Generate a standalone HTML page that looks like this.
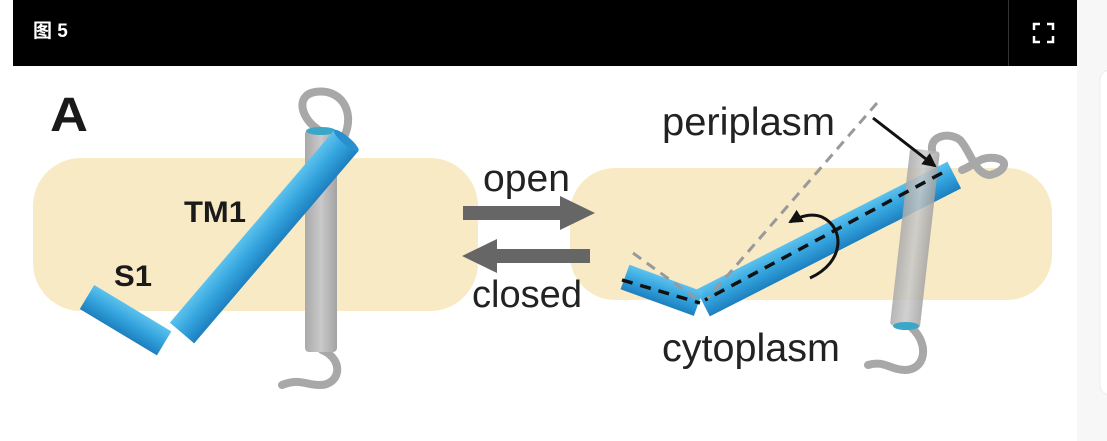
<!DOCTYPE html>
<html><head><meta charset="utf-8"><style>
html,body{margin:0;padding:0;width:1107px;height:441px;overflow:hidden;background:#f7f7f7;font-family:"Liberation Sans","Noto Sans CJK SC",sans-serif}
</style></head><body>
<svg width="1107" height="441" viewBox="0 0 1107 441" xmlns="http://www.w3.org/2000/svg" style="position:absolute;left:0;top:0">
<defs>
<linearGradient id="bl" x1="0" y1="0" x2="0" y2="1">
<stop offset="0" stop-color="#5cc2ee"/><stop offset="0.5" stop-color="#33a3dd"/><stop offset="1" stop-color="#1d7fbf"/></linearGradient>
<linearGradient id="gr" x1="0" y1="0" x2="1" y2="0">
<stop offset="0" stop-color="#a9a9a9"/><stop offset="0.5" stop-color="#c9c9c9"/><stop offset="1" stop-color="#a3a3a3"/></linearGradient>
<marker id="ah" markerWidth="14" markerHeight="14" refX="12" refY="7" orient="auto" markerUnits="userSpaceOnUse"><path d="M0,0 L14,7 L0,14 Z" fill="#111"/></marker>
</defs>
<rect x="0" y="0" width="13" height="441" fill="#fff"/>
<rect x="13" y="0" width="1064" height="441" fill="#fff"/>
<rect x="1100" y="70" width="20" height="325" rx="10" fill="#fff" stroke="#ececec"/>
<rect x="13" y="0" width="1064" height="66" fill="#000"/>
<line x1="1008.5" y1="0" x2="1008.5" y2="66" stroke="#333"/>
<text x="33" y="37" font-size="19" font-weight="bold" fill="#fff">图 5</text>
<g stroke="#fff" stroke-width="2.5" fill="none">
<path d="M1034,30 V24 H1040"/><path d="M1047,24 H1053 V30"/><path d="M1034,36 V42 H1040"/><path d="M1047,42 H1053 V36"/></g>

<rect x="33" y="158" width="445" height="153" rx="48" fill="#f9eac6"/>
<rect x="570" y="168" width="482" height="132" rx="45" fill="#f9eac6"/>

<text x="50" y="131" font-size="48" font-weight="bold" fill="#1a1a1a" textLength="38" lengthAdjust="spacingAndGlyphs">A</text>

<path d="M322,132 C300,120 295,95 315,92 C340,88 355,110 345,135" stroke="#a8a8a8" stroke-width="8" fill="none" stroke-linecap="round"/>
<path d="M322,350 C345,360 340,385 320,385 C305,385 300,378 282,385" stroke="#a8a8a8" stroke-width="8" fill="none" stroke-linecap="round"/>
<rect x="305" y="130" width="32" height="222" rx="4" fill="url(#gr)"/>
<ellipse cx="321" cy="131" rx="15" ry="4" fill="#3aa6c8"/>

<g transform="translate(182,333) rotate(-49.5)">
<rect x="0" y="-16" width="253" height="32" fill="url(#bl)"/>
<ellipse cx="253" cy="0" rx="4" ry="16" fill="#2a8fcf"/></g>
<g transform="translate(87,297) rotate(31)">
<rect x="0" y="-14" width="90" height="28" fill="url(#bl)"/></g>
<text x="184" y="222" font-size="30" font-weight="bold" fill="#1a1a1a" textLength="62" lengthAdjust="spacingAndGlyphs">TM1</text>
<text x="114" y="286" font-size="30" font-weight="bold" fill="#1a1a1a" textLength="38" lengthAdjust="spacingAndGlyphs">S1</text>

<rect x="463" y="206" width="100" height="14" fill="#666"/>
<path d="M560,196 L595,213 L560,230 Z" fill="#666"/>
<rect x="495" y="249" width="95" height="14" fill="#666"/>
<path d="M497,239 L462,256 L497,273 Z" fill="#666"/>
<text x="483" y="191" font-size="38" fill="#222" textLength="87" lengthAdjust="spacingAndGlyphs">open</text>
<text x="472" y="307" font-size="38" fill="#222" textLength="110" lengthAdjust="spacingAndGlyphs">closed</text>

<text x="662" y="135" font-size="39" fill="#222" textLength="173" lengthAdjust="spacingAndGlyphs">periplasm</text>
<text x="662" y="361" font-size="39" fill="#222" textLength="178" lengthAdjust="spacingAndGlyphs">cytoplasm</text>
<path d="M932,150 C930,135 950,132 960,140 C970,150 975,175 990,175 C1005,172 1010,160 995,158 C980,156 975,165 962,170" stroke="#a8a8a8" stroke-width="8" fill="none" stroke-linecap="round"/>
<path d="M912,328 C930,345 925,370 905,370 C890,370 885,360 868,365" stroke="#a8a8a8" stroke-width="8" fill="none" stroke-linecap="round"/>
<g transform="translate(703,303) rotate(-27)">
<rect x="0" y="-15" width="282" height="30" fill="url(#bl)"/></g>
<g transform="translate(625,277) rotate(20)">
<rect x="0" y="-13" width="78" height="26" fill="url(#bl)"/></g>
<g transform="translate(925,150) rotate(6.5)" opacity="0.85">
<rect x="-15" y="0" width="30" height="178" rx="3" fill="url(#gr)"/></g>
<ellipse cx="906" cy="326" rx="13" ry="4" fill="#3aa6c8"/>
<line x1="877" y1="103" x2="708" y2="298" stroke="#999" stroke-width="3" stroke-dasharray="10,7"/>
<line x1="633" y1="253" x2="695" y2="298" stroke="#999" stroke-width="3" stroke-dasharray="10,7"/>
<line x1="942" y1="173" x2="705" y2="300" stroke="#111" stroke-width="3.5" stroke-dasharray="11,8"/>
<line x1="622" y1="280" x2="700" y2="303" stroke="#111" stroke-width="3.5" stroke-dasharray="11,8"/>
<line x1="873" y1="118" x2="935" y2="166" stroke="#111" stroke-width="3" marker-end="url(#ah)"/>
<path d="M810,278 C845,262 845,228 822,217 C812,213 800,216 790,222" stroke="#111" stroke-width="3" fill="none" marker-end="url(#ah)"/>
</svg>
</body></html>
